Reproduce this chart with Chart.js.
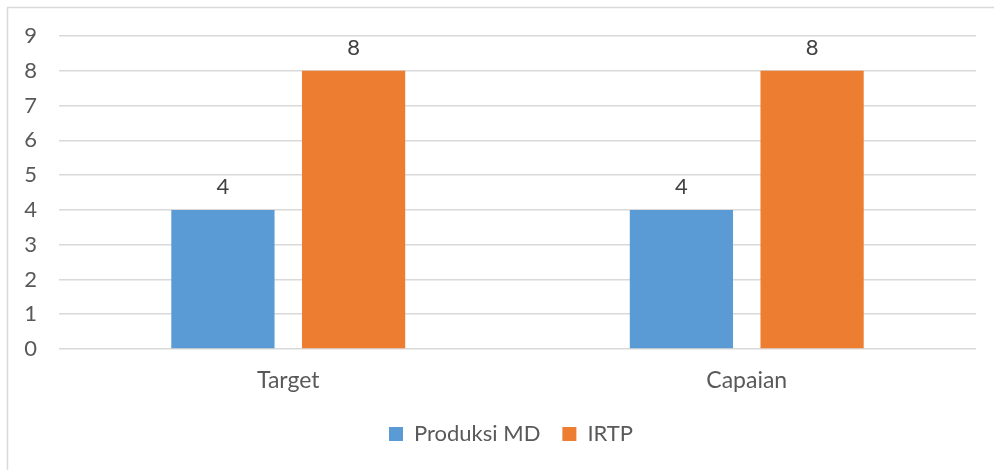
<!DOCTYPE html>
<html>
<head>
<meta charset="utf-8">
<script src="https://cdn.jsdelivr.net/npm/chart.js@4/dist/chart.umd.min.js"></script>
<style>
  body { margin: 0; background: #fff; }
  #wrap { position: relative; width: 994px; height: 470px; }
</style>
</head>
<body>
<div id="wrap"><canvas id="myChart" width="994" height="470"></canvas></div>
<script>
var categories = ['Target', 'Capaian'];
var produksiMD = [4, 4];
var irtp = [8, 8];
var yTicks = [0, 1, 2, 3, 4, 5, 6, 7, 8, 9];

var textColor = '#595959';
var fontFamily = 'Lato, "Open Sans", sans-serif';

// outer chart frame (only top and left edges are visible in the picture)
var framePlugin = {
  id: 'frame',
  beforeDraw: function (chart) {
    var c = chart.ctx;
    c.save();
    c.fillStyle = '#fff';
    c.fillRect(0, 0, chart.width, chart.height);
    c.strokeStyle = '#D9D9D9';
    c.lineWidth = 1.5;
    c.beginPath();
    c.moveTo(7.5, chart.height);
    c.lineTo(7.5, 7.5);
    c.lineTo(chart.width, 7.5);
    c.stroke();
    c.restore();
  },
  // the original frame is wider than the window, so its legend sits a bit right of centre
  afterLayout: function (chart) {
    if (chart.legend) {
      chart.legend.left += 23;
      chart.legend.right += 23;
    }
  }
};

// value labels above each bar
var valueLabels = {
  id: 'valueLabels',
  afterDatasetsDraw: function (chart) {
    var c = chart.ctx;
    c.save();
    c.fillStyle = '#404040';
    c.font = '22px ' + fontFamily;
    c.textAlign = 'center';
    c.textBaseline = 'middle';
    chart.data.datasets.forEach(function (ds, i) {
      chart.getDatasetMeta(i).data.forEach(function (bar, j) {
        c.fillText(ds.data[j], bar.x, bar.y - 23);
      });
    });
    c.restore();
  }
};

var ctx = document.getElementById('myChart').getContext('2d');
var myChart = new Chart(ctx, {
  type: 'bar',
  data: {
    labels: categories,
    datasets: [{
      label: 'Produksi MD',
      data: produksiMD,
      backgroundColor: '#5B9BD5',
      categoryPercentage: 0.57,
      barPercentage: 0.79
    }, {
      label: 'IRTP',
      data: irtp,
      backgroundColor: '#ED7D31',
      categoryPercentage: 0.57,
      barPercentage: 0.79
    }]
  },
  options: {
    responsive: false,
    animation: false,
    layout: { padding: { top: 36, right: 18, left: 0, bottom: 15 } },
    plugins: {
      tooltip: { enabled: false },
      legend: {
        position: 'bottom',
        labels: {
          boxWidth: 14,
          boxHeight: 14,
          padding: 22,
          color: textColor,
          font: { family: fontFamily, size: 22 }
        }
      }
    },
    scales: {
      x: {
        grid: { display: false, drawTicks: false },
        border: { display: false },
        ticks: {
          color: textColor,
          padding: 18,
          font: { family: fontFamily, size: 23 }
        },
        afterFit: function (scale) { scale.height = 52; }
      },
      y: {
        min: 0,
        max: 9,
        afterBuildTicks: function (scale) {
          scale.ticks = yTicks.map(function (v) { return { value: v }; });
        },
        grid: { color: '#D9D9D9', lineWidth: 1.5, drawTicks: false },
        border: { display: false },
        ticks: {
          color: textColor,
          padding: 22,
          font: { family: fontFamily, size: 22 }
        },
        afterFit: function (scale) { scale.width = 59; }
      }
    }
  },
  plugins: [framePlugin, valueLabels]
});
</script>
</body>
</html>
